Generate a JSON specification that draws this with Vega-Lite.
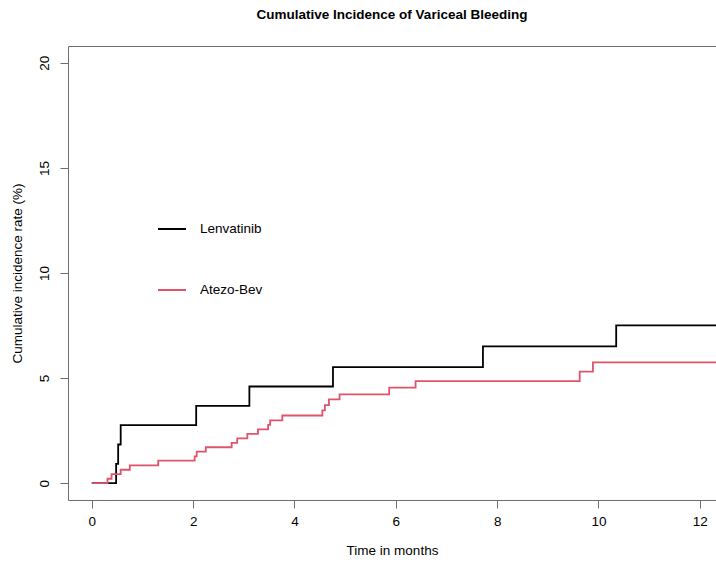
{
  "$schema": "https://vega.github.io/schema/vega-lite/v6.json",
  "width": 648,
  "height": 454,
  "autosize": {"type": "none"},
  "padding": {"left": 68, "top": 46, "right": 0, "bottom": 62},
  "background": "white",
  "title": {
    "text": "Cumulative Incidence of Variceal Bleeding",
    "anchor": "middle",
    "frame": "group",
    "fontSize": 13.5,
    "fontWeight": "bold",
    "font": "Liberation Sans",
    "color": "#000000",
    "offset": 25
  },
  "config": {
    "font": "Liberation Sans",
    "view": {"stroke": "#6e6e6e", "strokeWidth": 1}
  },
  "data": {
    "values": [
      {"time": 0, "rate": 0, "group": "Lenvatinib"},
      {"time": 0.48, "rate": 0.92, "group": "Lenvatinib"},
      {"time": 0.52, "rate": 1.84, "group": "Lenvatinib"},
      {"time": 0.57, "rate": 2.76, "group": "Lenvatinib"},
      {"time": 2.06, "rate": 3.68, "group": "Lenvatinib"},
      {"time": 3.11, "rate": 4.6, "group": "Lenvatinib"},
      {"time": 4.76, "rate": 5.52, "group": "Lenvatinib"},
      {"time": 7.72, "rate": 6.51, "group": "Lenvatinib"},
      {"time": 10.35, "rate": 7.51, "group": "Lenvatinib"},
      {"time": 12.6, "rate": 7.51, "group": "Lenvatinib"},
      {"time": 0, "rate": 0, "group": "Atezo-Bev"},
      {"time": 0.31, "rate": 0.21, "group": "Atezo-Bev"},
      {"time": 0.39, "rate": 0.43, "group": "Atezo-Bev"},
      {"time": 0.57, "rate": 0.64, "group": "Atezo-Bev"},
      {"time": 0.75, "rate": 0.85, "group": "Atezo-Bev"},
      {"time": 1.31, "rate": 1.07, "group": "Atezo-Bev"},
      {"time": 2.03, "rate": 1.28, "group": "Atezo-Bev"},
      {"time": 2.07, "rate": 1.5, "group": "Atezo-Bev"},
      {"time": 2.25, "rate": 1.71, "group": "Atezo-Bev"},
      {"time": 2.76, "rate": 1.92, "group": "Atezo-Bev"},
      {"time": 2.87, "rate": 2.13, "group": "Atezo-Bev"},
      {"time": 3.07, "rate": 2.35, "group": "Atezo-Bev"},
      {"time": 3.28, "rate": 2.56, "group": "Atezo-Bev"},
      {"time": 3.48, "rate": 2.77, "group": "Atezo-Bev"},
      {"time": 3.52, "rate": 2.99, "group": "Atezo-Bev"},
      {"time": 3.76, "rate": 3.22, "group": "Atezo-Bev"},
      {"time": 4.55, "rate": 3.46, "group": "Atezo-Bev"},
      {"time": 4.6, "rate": 3.71, "group": "Atezo-Bev"},
      {"time": 4.68, "rate": 3.99, "group": "Atezo-Bev"},
      {"time": 4.89, "rate": 4.23, "group": "Atezo-Bev"},
      {"time": 5.87, "rate": 4.55, "group": "Atezo-Bev"},
      {"time": 6.39, "rate": 4.86, "group": "Atezo-Bev"},
      {"time": 9.63, "rate": 5.31, "group": "Atezo-Bev"},
      {"time": 9.89, "rate": 5.75, "group": "Atezo-Bev"},
      {"time": 12.6, "rate": 5.75, "group": "Atezo-Bev"}
    ]
  },
  "mark": {"type": "line", "interpolate": "step-after", "strokeWidth": 1.8, "clip": true},
  "encoding": {
    "x": {
      "field": "time",
      "type": "quantitative",
      "scale": {"domain": [-0.47, 12.32], "nice": false, "zero": false},
      "axis": {
        "title": "Time in months",
        "values": [0, 2, 4, 6, 8, 10, 12],
        "grid": false,
        "domain": false,
        "tickColor": "#6e6e6e",
        "tickSize": 8,
        "labelFontSize": 13.5,
        "labelColor": "#000000",
        "labelPadding": 6,
        "labelFlush": false,
        "titleFontSize": 13.5,
        "titleFontWeight": "normal",
        "titleColor": "#000000",
        "titlePadding": 16
      }
    },
    "y": {
      "field": "rate",
      "type": "quantitative",
      "scale": {"domain": [-0.8, 20.8], "nice": false, "zero": false},
      "axis": {
        "title": "Cumulative incidence rate (%)",
        "values": [0, 5, 10, 15, 20],
        "grid": false,
        "domain": false,
        "tickColor": "#6e6e6e",
        "tickSize": 8,
        "labelAngle": -90,
        "labelAlign": "center",
        "labelBaseline": "bottom",
        "labelFontSize": 13.5,
        "labelColor": "#000000",
        "labelPadding": 9,
        "labelFlush": false,
        "titleFontSize": 13.5,
        "titleFontWeight": "normal",
        "titleColor": "#000000",
        "titlePadding": 13
      }
    },
    "color": {
      "field": "group",
      "type": "nominal",
      "sort": ["Lenvatinib", "Atezo-Bev"],
      "scale": {"domain": ["Lenvatinib", "Atezo-Bev"], "range": ["#000000", "#DF536B"]},
      "legend": {
        "orient": "none",
        "legendX": 89,
        "legendY": 168,
        "title": null,
        "symbolType": "stroke",
        "symbolSize": 784,
        "symbolStrokeWidth": 2,
        "labelFontSize": 13.5,
        "labelColor": "#000000",
        "labelOffset": 13,
        "rowPadding": 39
      }
    }
  }
}
